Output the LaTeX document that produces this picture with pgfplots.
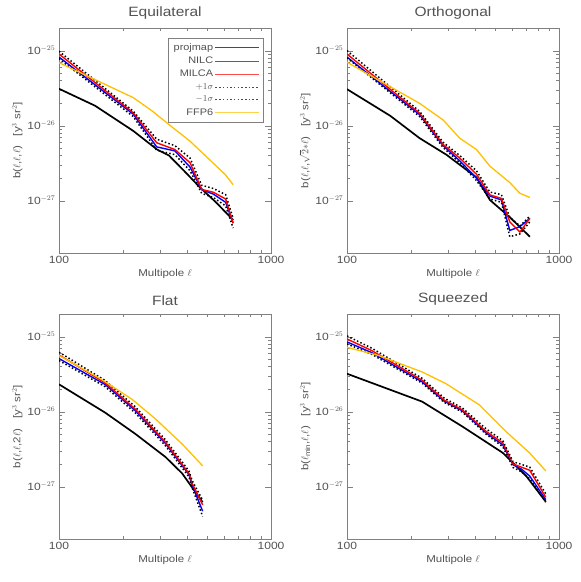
\documentclass[border=0pt]{standalone}
\usepackage{fontspec}
\setmainfont{Liberation Sans}[FakeStretch=1.15]
\usepackage{pgfplots}
\pgfplotsset{compat=1.18}

\definecolor{ffpgold}{HTML}{FFC000}
\colorlet{idlgray}{black!50}
\colorlet{idltext}{black!68}

\tikzset{
  pm/.style={black, line width=1.7pt},
  nilc/.style={blue, line width=1.4pt},
  milca/.style={red, line width=1.4pt},
  sig/.style={black, line width=1.5pt, dash pattern=on 1.5pt off 2.2pt},
  ffp/.style={ffpgold, line width=1.3pt},
}

\pgfplotsset{
  every axis/.append style={
    scale only axis,
    width=212pt, height=225pt,
    xmin=100, xmax=1000,
    ymin=2e-28, ymax=2e-25,
    xtick={100,1000}, xticklabels={100,1000},
    ytick={1e-27,1e-26,1e-25},
    yticklabels={10$^{-27}$,10$^{-26}$,10$^{-25}$},
    axis line style={idlgray},
    major tick length=6pt,
    minor tick length=3pt,
    tick label style={font=\fontsize{10.5}{12}\selectfont, text=idltext},
    title style={font=\fontsize{13.5}{15}\selectfont, text=idltext, yshift=-1pt},
    label style={font=\fontsize{10}{12}\selectfont, text=idltext},
    xlabel={Multipole $\ell$},
    xlabel style={yshift=2pt},
    ylabel style={yshift=-2pt},
  },
}

\begin{document}
\begin{tikzpicture}
\useasboundingbox (0pt,0pt) rectangle (581pt,-582pt);

% ---------------- Equilateral ----------------
\begin{loglogaxis}[at={(59pt,-28pt)}, anchor=north west,
  title={Equilateral},
  ylabel={b($\ell$,$\ell$,$\ell$)\quad[y$^3$ sr$^2$]},
  legend style={at={(0.962,0.955)}, anchor=north east, draw=idlgray,
    font=\fontsize{9.5}{11}\selectfont, text=idltext, cells={anchor=east},
    row sep=1.2pt, inner xsep=3pt, inner ysep=3pt},
  legend plot pos=right,
  legend image code/.code={\draw[#1, line width=0.6pt, opacity=0.7] (0pt,0pt) -- (44pt,0pt);}]
  \addplot[pm] coordinates {(100,3.1e-26)(148,1.84e-26)(224,8.5e-27)(290,4.8e-27)(330,4.0e-27)(400,2.3e-27)(462,1.5e-27)(550,9.5e-28)(663,5.5e-28)};
  \addlegendentry{projmap}
  \addplot[nilc] coordinates {(100,8.2e-26)(224,1.42e-26)(289,5.2e-27)(352,4.6e-27)(415,2.8e-27)(471,1.40e-27)(535,1.22e-27)(611,9.5e-28)(663,5.0e-28)};
  \addlegendentry{NILC}
  \addplot[milca] coordinates {(100,9.0e-26)(224,1.48e-26)(289,5.9e-27)(352,4.8e-27)(415,3.2e-27)(471,1.41e-27)(535,1.29e-27)(611,1.05e-27)(663,5.0e-28)};
  \addlegendentry{MILCA}
  \addplot[sig] coordinates {(100,9.8e-26)(224,1.56e-26)(289,6.6e-27)(352,5.4e-27)(415,3.7e-27)(471,1.6e-27)(535,1.45e-27)(611,1.2e-27)(663,5.8e-28)};
  \addlegendentry{$+1\sigma$}
  \addplot[sig] coordinates {(100,7.8e-26)(224,1.32e-26)(289,4.7e-27)(352,4.1e-27)(415,2.5e-27)(471,1.25e-27)(535,1.1e-27)(611,8.5e-28)(663,4.3e-28)};
  \addlegendentry{$-1\sigma$}
  \addplot[ffp] coordinates {(100,6.9e-26)(148,4.1e-26)(224,2.36e-26)(274,1.58e-26)(346,9.3e-27)(415,6.2e-27)(607,2.24e-27)(663,1.63e-27)};
  \addlegendentry{FFP6}
\end{loglogaxis}

% ---------------- Orthogonal ----------------
\begin{loglogaxis}[at={(347pt,-28pt)}, anchor=north west,
  title={Orthogonal},
  ylabel={b($\ell$,$\ell$,$\sqrt{2}{*}\ell$)\quad[y$^3$ sr$^2$]}]
  \addplot[pm] coordinates {(100,3.06e-26)(160,1.35e-26)(220,6.8e-27)(294,4.1e-27)(408,2.04e-27)(472,1.02e-27)(586,6.0e-28)(729,3.3e-28)};
  \addplot[nilc] coordinates {(100,8.2e-26)(220,1.40e-26)(284,5.4e-27)(340,3.4e-27)(408,2.0e-27)(472,1.15e-27)(535,1.02e-27)(586,4.0e-28)(654,4.5e-28)(729,5.8e-28)};
  \addplot[milca] coordinates {(100,9.0e-26)(220,1.46e-26)(284,5.6e-27)(340,3.7e-27)(408,2.25e-27)(472,1.19e-27)(535,1.07e-27)(586,5.2e-28)(654,3.8e-28)(729,5.8e-28)};
  \addplot[sig] coordinates {(100,1.0e-25)(220,1.55e-26)(284,6.0e-27)(340,4.0e-27)(408,2.5e-27)(472,1.3e-27)(535,1.2e-27)(586,6.0e-28)(654,4.6e-28)(729,6.2e-28)};
  \addplot[sig] coordinates {(100,8.0e-26)(220,1.32e-26)(284,5.1e-27)(340,3.2e-27)(408,1.85e-27)(472,1.05e-27)(535,9.5e-28)(586,3.3e-28)(654,3.6e-28)(729,5.2e-28)};
  \addplot[ffp] coordinates {(100,7.0e-26)(220,1.98e-26)(284,1.19e-26)(340,6.8e-27)(408,4.8e-27)(472,2.88e-27)(586,1.74e-27)(654,1.25e-27)(729,1.1e-27)};
\end{loglogaxis}

% ---------------- Flat ----------------
\begin{loglogaxis}[at={(59pt,-314pt)}, anchor=north west,
  title={Flat},
  ylabel={b($\ell$,$\ell$,2$\ell$)\quad[y$^3$ sr$^2$]}]
  \addplot[pm] coordinates {(100,2.31e-26)(165,9.7e-27)(229,5.05e-27)(318,2.48e-27)(381,1.5e-27)(433,9.0e-28)(476,6.2e-28)};
  \addplot[nilc] coordinates {(100,5.1e-26)(165,2.3e-26)(229,1.03e-26)(318,3.75e-27)(410,1.45e-27)(425,1.05e-27)(476,4.7e-28)};
  \addplot[milca] coordinates {(100,5.7e-26)(165,2.42e-26)(229,1.08e-26)(318,3.9e-27)(410,1.5e-27)(425,1.1e-27)(476,5.7e-28)};
  \addplot[sig] coordinates {(100,6.2e-26)(165,2.6e-26)(229,1.16e-26)(318,4.2e-27)(410,1.62e-27)(425,1.2e-27)(476,6.6e-28)};
  \addplot[sig] coordinates {(100,4.8e-26)(165,2.15e-26)(229,9.6e-27)(318,3.5e-27)(410,1.35e-27)(425,9.6e-28)(476,4.0e-28)};
  \addplot[ffp] coordinates {(100,5.6e-26)(159,2.68e-26)(221,1.46e-26)(285,8.0e-27)(381,3.7e-27)(476,1.89e-27)};
\end{loglogaxis}

% ---------------- Squeezed ----------------
\begin{loglogaxis}[at={(347pt,-314pt)}, anchor=north west,
  title={Squeezed},
  ylabel={b($\ell_{\rm min}$,$\ell$,$\ell$)\quad[y$^3$ sr$^2$]}]
  \addplot[pm] coordinates {(100,3.2e-26)(226,1.36e-26)(351,6.3e-27)(543,2.82e-27)(701,1.38e-27)(866,6.3e-28)};
  \addplot[nilc] coordinates {(100,8.5e-26)(131,6.1e-26)(226,2.5e-26)(287,1.38e-26)(351,1.02e-26)(453,5.2e-27)(543,3.6e-27)(607,1.95e-27)(664,1.72e-27)(728,1.38e-27)(866,6.7e-28)};
  \addplot[milca] coordinates {(100,9.3e-26)(131,6.5e-26)(226,2.62e-26)(287,1.43e-26)(351,1.05e-26)(453,5.45e-27)(543,3.83e-27)(607,2.0e-27)(664,1.82e-27)(728,1.65e-27)(866,7.2e-28)};
  \addplot[sig] coordinates {(100,1.02e-25)(131,7.0e-26)(226,2.78e-26)(287,1.52e-26)(351,1.11e-26)(453,5.9e-27)(543,4.1e-27)(607,2.15e-27)(664,1.98e-27)(728,1.82e-27)(866,8.0e-28)};
  \addplot[sig] coordinates {(100,8.0e-26)(131,5.8e-26)(226,2.4e-26)(287,1.33e-26)(351,9.8e-27)(453,5.0e-27)(543,3.4e-27)(607,1.8e-27)(664,1.58e-27)(728,1.27e-27)(866,6.2e-28)};
  \addplot[ffp] coordinates {(100,7.2e-26)(141,5.6e-26)(226,3.38e-26)(292,2.37e-26)(421,1.23e-26)(563,5.4e-27)(728,2.8e-27)(866,1.62e-27)};
\end{loglogaxis}
\end{tikzpicture}
\end{document}
